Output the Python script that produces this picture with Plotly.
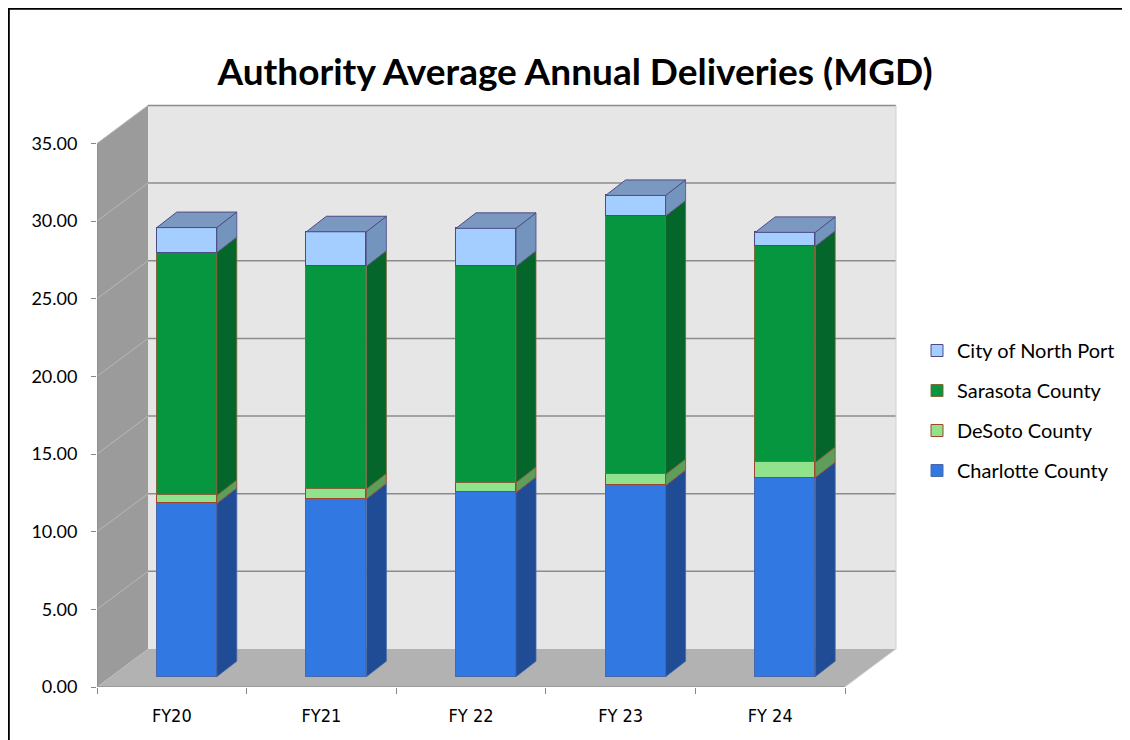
import plotly.graph_objects as go

# ---------------- data ----------------
categories = ["FY20", "FY21", "FY 22", "FY 23", "FY 24"]
charlotte = [11.15, 11.45, 11.86, 12.31, 12.82]
desoto = [0.52, 0.64, 0.64, 0.71, 0.97]
sarasota = [15.64, 14.34, 13.92, 16.64, 13.92]
north_port = [1.61, 2.22, 2.45, 1.33, 0.90]
y_ticks = [0, 5, 10, 15, 20, 25, 30, 35]

series = [
    ("Charlotte County", charlotte, "#3278E2", "#1F4C94", "#4A68A8"),
    ("DeSoto County", desoto, "#90E28C", "#5E9E5A", "#A0452C"),
    ("Sarasota County", sarasota, "#05963F", "#04662A", "#7C6A3A"),
    ("City of North Port", north_port, "#A3CEFF", "#7394BC", "#4E4A86"),
]
np_top_color = "#7B98C0"

# ---------------- geometry (pixels -> axis units) ----------------
# the page body has an 8px margin, so the figure is placed at (8, 8)
OFF = 8
W, H = 1130 - OFF, 740 - OFF
X0_PX, XPX = 97.0 - OFF, 149.6      # px of x=-0.5, px per category
Y0_PX, YPX = 687.0 - OFF, 15.53     # px of y=0, px per unit
X_MAX = 4.86
Y_MAX = 37.6

def ux(px):
    return px / XPX

def uy(px):
    return px / YPX

back_dx, back_dy = ux(51), uy(38)      # depth of the walls
bar_dx, bar_dy = ux(15), uy(10.3)      # bar front plane offset
side_dx, side_dy = ux(20), uy(15.5)    # bar depth
bar_w = ux(60)

dom_x = [X0_PX / W, (X0_PX + (X_MAX + 0.5) * XPX) / W]
dom_y = [(H - Y0_PX) / H, (H - (Y0_PX - Y_MAX * YPX)) / H]

fig = go.Figure()

n_series = len(series)
for k, (name, vals, col, side, edge) in enumerate(series):
    fig.add_trace(go.Bar(
        x=list(range(len(categories))), y=vals, name=name,
        marker=dict(color=col, line=dict(color=edge, width=1)),
        width=bar_w, xaxis="x2", yaxis="y2",
        legendgroup=name, legendrank=n_series - k, hoverinfo="y+name",
    ))

shapes = []
gcol = "#8C8C8C"
# back wall
shapes.append(dict(type="rect", xref="x", yref="y", layer="below",
                   x0=-0.5 + back_dx, x1=4.5 + back_dx, y0=back_dy, y1=35 + back_dy,
                   fillcolor="#E6E6E6", line=dict(width=0)))
# left wall
shapes.append(dict(type="path", xref="x", yref="y", layer="below",
                   path=f"M -0.5,0 L -0.5,35 L {-0.5+back_dx},{35+back_dy} L {-0.5+back_dx},{back_dy} Z",
                   fillcolor="#9B9B9B", line=dict(width=0)))
# floor
shapes.append(dict(type="path", xref="x", yref="y", layer="below",
                   path=f"M -0.5,0 L 4.5,0 L {4.5+back_dx},{back_dy} L {-0.5+back_dx},{back_dy} Z",
                   fillcolor="#B2B2B2", line=dict(width=0)))
# gridlines on back wall and left wall
for v in y_ticks[1:]:
    shapes.append(dict(type="line", xref="x", yref="y", layer="below",
                       x0=-0.5 + back_dx, x1=4.5 + back_dx, y0=v + back_dy, y1=v + back_dy,
                       line=dict(color=gcol, width=1.5)))
    shapes.append(dict(type="line", xref="x", yref="y", layer="below",
                       x0=-0.5, x1=-0.5 + back_dx, y0=v, y1=v + back_dy,
                       line=dict(color="#B8B8B8", width=1)))
# right edge of back wall
shapes.append(dict(type="line", xref="x", yref="y", layer="below",
                   x0=4.5 + back_dx, x1=4.5 + back_dx, y0=back_dy, y1=35 + back_dy,
                   line=dict(color="#D0D0D0", width=1)))
# floor right edge highlight
shapes.append(dict(type="line", xref="x", yref="y", layer="below",
                   x0=4.5, x1=4.5 + back_dx, y0=0, y1=back_dy,
                   line=dict(color="#DDDDDD", width=1)))
# axis lines
shapes.append(dict(type="line", xref="x", yref="y", layer="above",
                   x0=-0.5, x1=-0.5, y0=0, y1=35, line=dict(color="#868686", width=1)))
shapes.append(dict(type="line", xref="x", yref="y", layer="above",
                   x0=-0.5, x1=4.5, y0=0, y1=0, line=dict(color="#868686", width=1)))

# bar side and top faces, computed from data
for i in range(len(categories)):
    xr = i + bar_w / 2
    xl = i - bar_w / 2
    base = 0.0
    for name, vals, col, side, edge in series:
        top = base + vals[i]
        shapes.append(dict(type="path", xref="x2", yref="y2", layer="above",
                           path=f"M {xr},{base} L {xr+side_dx},{base+side_dy} L {xr+side_dx},{top+side_dy} L {xr},{top} Z",
                           fillcolor=side, line=dict(color=edge, width=0.8)))
        base = top
    shapes.append(dict(type="path", xref="x2", yref="y2", layer="above",
                       path=f"M {xl},{base} L {xl+side_dx},{base+side_dy} L {xr+side_dx},{base+side_dy} L {xr},{base} Z",
                       fillcolor=np_top_color, line=dict(color="#4E4A86", width=1)))

# outer frame (left and top edges visible)
shapes.append(dict(type="rect", xref="paper", yref="paper",
                   x0=0.8 / W, x1=1.2, y0=-0.2, y1=1 - 0.8 / H,
                   line=dict(color="black", width=2), fillcolor="rgba(0,0,0,0)"))

tick_font = dict(family="Lato, Calibri, sans-serif", size=18, color="black")

fig.update_layout(
    width=W, height=H, autosize=False,
    margin=dict(l=0, r=0, t=0, b=0),
    paper_bgcolor="white", plot_bgcolor="rgba(0,0,0,0)",
    barmode="stack", bargap=0,
    title=dict(text="<b>Authority Average Annual Deliveries (MGD)</b>",
               x=(575 - OFF) / W, xanchor="center", y=1 - (72 - OFF) / H, yanchor="middle",
               font=dict(family="Lato, Calibri, sans-serif", size=37, color="black")),
    xaxis=dict(domain=dom_x, range=[-0.5, X_MAX], showgrid=False, zeroline=False,
               showline=False, tickmode="array", tickvals=list(range(len(categories))),
               ticktext=categories, ticks="", automargin=False, ticklabelstandoff=16,
               tickfont=dict(family="Liberation Sans Narrow, DejaVu Sans Condensed, Lato, sans-serif",
                             size=18, color="black"),
               minor=dict(tickvals=[i - 0.5 for i in range(len(categories) + 1)],
                          ticks="outside", ticklen=6, tickcolor="#868686", showgrid=False),
               fixedrange=True),
    yaxis=dict(domain=dom_y, range=[0, Y_MAX], showgrid=False, zeroline=False,
               showline=False, tickmode="array", tickvals=y_ticks,
               ticktext=[f"{v:.2f}" for v in y_ticks], ticks="outside", ticklen=5,
               ticklabelstandoff=10,
               tickcolor="#868686", tickfont=tick_font, automargin=False, fixedrange=True),
    xaxis2=dict(overlaying="x", domain=dom_x, range=[-0.5 - bar_dx, X_MAX - bar_dx],
                visible=False, fixedrange=True),
    yaxis2=dict(overlaying="y", domain=dom_y, range=[-bar_dy, Y_MAX - bar_dy],
                visible=False, fixedrange=True),
    legend=dict(x=909 / W, y=1 - 323 / H, xanchor="left", yanchor="top",
                traceorder="grouped", tracegroupgap=11, bgcolor="rgba(0,0,0,0)",
                font=dict(family="Lato, Calibri, sans-serif", size=20, color="black")),
    shapes=shapes,
    showlegend=True,
)

fig.write_html("out.html")
